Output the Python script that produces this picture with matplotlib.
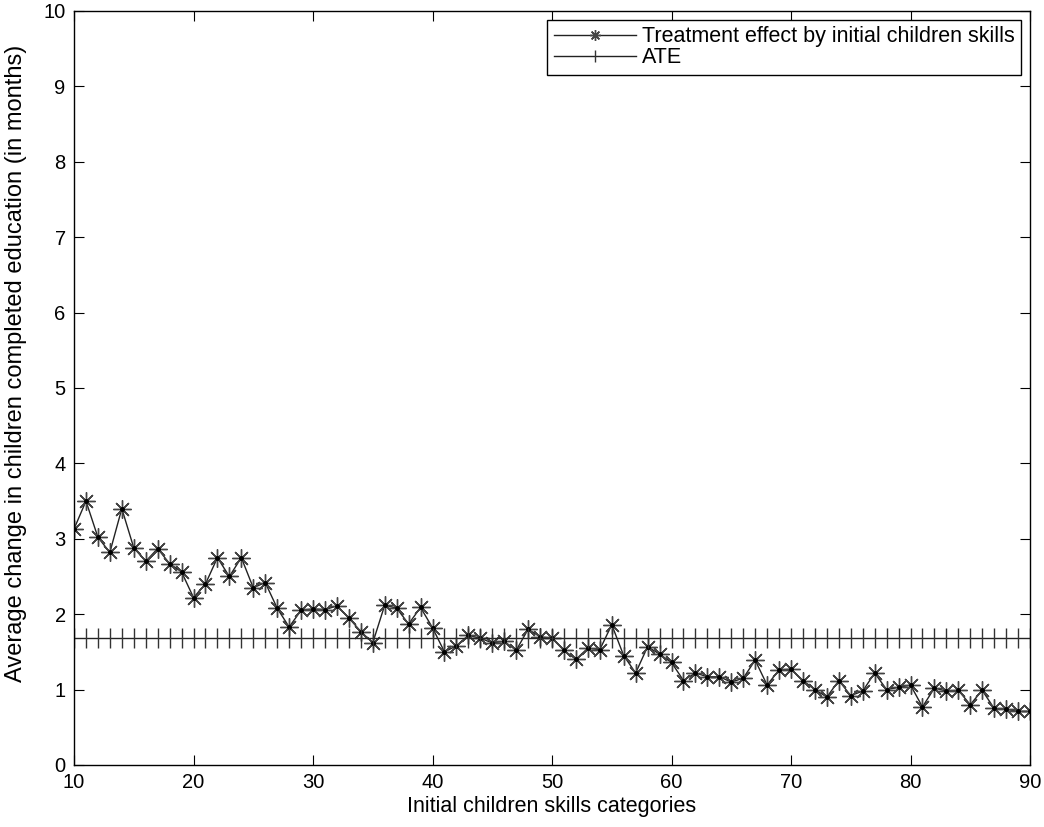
import matplotlib
matplotlib.use("Agg")
import matplotlib.pyplot as plt
import numpy as np

plt.rcParams['font.family'] = ['Liberation Sans', 'DejaVu Sans']

# skill categories on x
skill_cats = list(range(10, 91))
# treatment effect by initial skills (months)
effect = [3.13, 3.50, 3.02, 2.82, 3.40, 2.88, 2.70, 2.87, 2.67, 2.56,
          2.22, 2.40, 2.75, 2.50, 2.75, 2.35, 2.42, 2.08, 1.83, 2.05,
          2.07, 2.06, 2.11, 1.95, 1.77, 1.62, 2.12, 2.08, 1.87, 2.09,
          1.82, 1.50, 1.58, 1.72, 1.68, 1.62, 1.64, 1.52, 1.80, 1.70,
          1.68, 1.52, 1.40, 1.55, 1.53, 1.86, 1.45, 1.22, 1.57, 1.47,
          1.36, 1.12, 1.22, 1.17, 1.17, 1.10, 1.15, 1.39, 1.06, 1.26,
          1.27, 1.12, 1.00, 0.90, 1.12, 0.92, 0.98, 1.22, 1.00, 1.03,
          1.06, 0.77, 1.02, 0.98, 0.99, 0.80, 0.99, 0.75, 0.74, 0.71,
          0.71]
ate_value = 1.69

fig = plt.figure(figsize=(10.44, 8.27), dpi=100)
ax = fig.add_axes([0.0709, 0.075, 0.9157, 0.9117])

# MATLAB-like asterisk: 8 arms
asterisk = (8, 2, 0)
ax.plot(skill_cats, effect, color='#222222', lw=1.0, marker=asterisk,
        markersize=13, markeredgewidth=1.0, markeredgecolor='#444444',
        label='Treatment effect by initial children skills')
ax.plot(skill_cats, effect, linestyle='none', marker='o', markersize=2.5,
        color='black')
ax.plot(skill_cats, [ate_value] * len(skill_cats), color='#222222', lw=1.0,
        marker='|', markersize=15, markeredgewidth=1.0, markeredgecolor='#333333',
        label='ATE')

ax.set_xlim(10, 90)
ax.set_ylim(0, 10)
ax.set_xticks(np.arange(10, 91, 10))
ax.set_yticks(np.arange(0, 11, 1))
ax.tick_params(direction='in', top=True, right=True, labelsize=14.5,
               length=7, pad=6)
for s in ax.spines.values():
    s.set_linewidth(1.0)

ax.set_xlabel('Initial children skills categories', fontsize=15.5, labelpad=3)
ax.set_ylabel('Average change in children completed education (in months)',
              fontsize=17)
ax.yaxis.set_label_coords(-0.049, 0.533)

leg = ax.legend(loc='upper right', fontsize=15.5, fancybox=False, framealpha=1,
                edgecolor='black', borderaxespad=0.4, handlelength=3.8,
                borderpad=0.3, labelspacing=0.0, handletextpad=0.3,
                markerscale=0.6)
leg.get_frame().set_linewidth(1.0)

fig.savefig('out.png', dpi=100)
